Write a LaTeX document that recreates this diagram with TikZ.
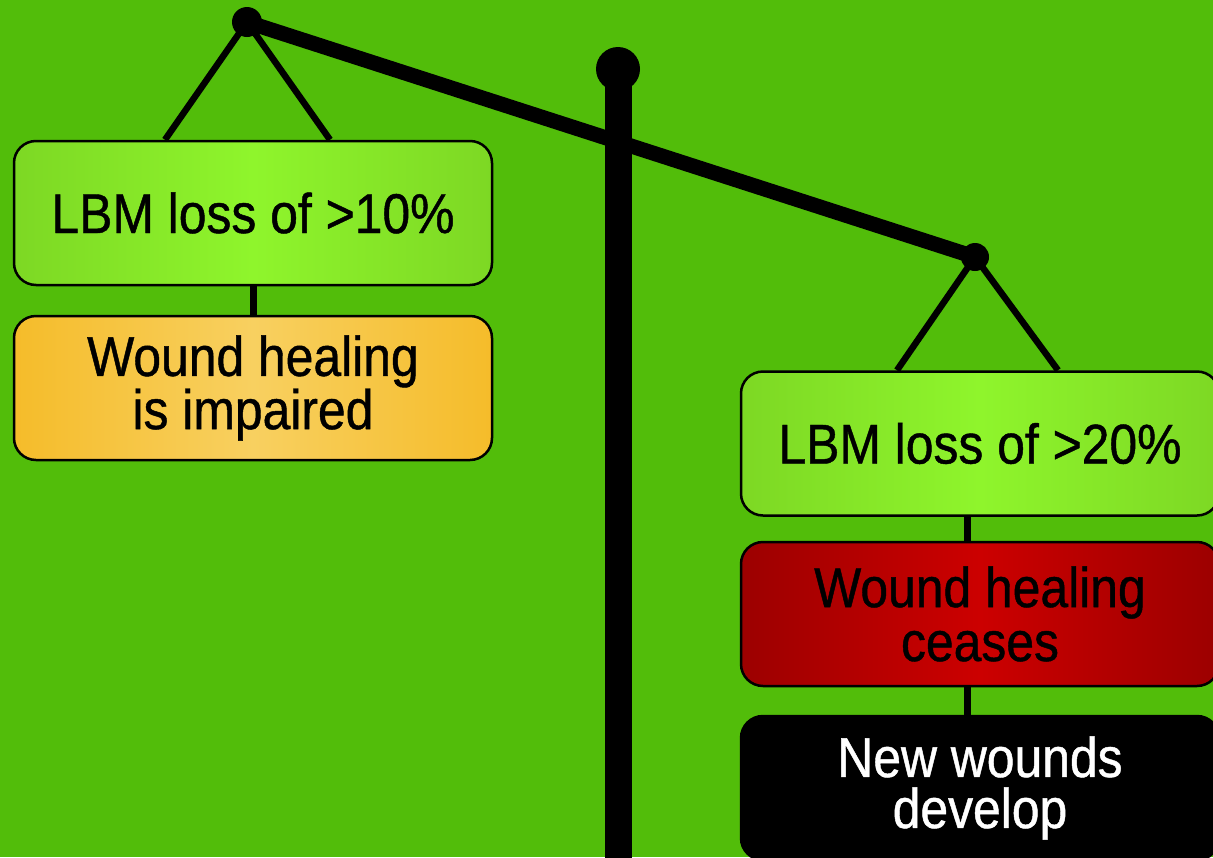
\documentclass[tikz,border=0pt]{standalone}
\usepackage{fontspec}
\setmainfont{Liberation Sans}[FakeStretch=0.89,FakeBold=0.8]
\usetikzlibrary{calc}
\pgfdeclarelayer{back}
\pgfdeclarelayer{mid}
\pgfsetlayers{back,mid,main}
\definecolor{bg}{HTML}{52BD0A}
\definecolor{gedge}{HTML}{7DD824}
\definecolor{gmid}{HTML}{8FF52C}
\definecolor{oedge}{HTML}{F5BC2A}
\definecolor{omid}{HTML}{F8D060}
\definecolor{redge}{HTML}{9C0000}
\definecolor{rmid}{HTML}{CC0000}
\tikzset{
  card/.style={draw=black, line width=2.5pt, rounded corners=22pt,
    minimum width=478pt, minimum height=144pt, inner sep=0pt, align=center},
  greencard/.style={card, left color=gedge, right color=gedge, middle color=gmid,
    font=\fontsize{56}{48}\selectfont},
  orangecard/.style={card, left color=oedge, right color=oedge, middle color=omid,
    font=\fontsize{56}{48}\selectfont},
  redcard/.style={card, left color=redge, right color=redge, middle color=rmid,
    font=\fontsize{56}{54}\selectfont},
  blackcard/.style={card, fill=black, text=white,
    font=\fontsize{56}{51}\selectfont},
  stringline/.style={draw=black, line width=6.5pt},
  connline/.style={draw=black, line width=7pt},
  beamline/.style={draw=black, line width=15pt},
}
\begin{document}
\begin{tikzpicture}[x=1pt,y=-1pt]
\useasboundingbox (0,0) rectangle (1213,857);
\clip (0,0) rectangle (1213,857);
\begin{pgfonlayer}{back}
\fill[bg] (0,0) rectangle (1213,857);
\end{pgfonlayer}

% pivots
\coordinate (lp) at (247,22);
\coordinate (rp) at (975,257);
\coordinate (pt) at (618,69);
\coordinate (pb) at (618,870);

% boxes
\node[greencard] (L1) at (253,213) {LBM loss of >10\%};
\node[orangecard] (L2) at (253,388) {Wound healing\\is impaired};
\node[greencard] (R1) at (980,443.5) {LBM loss of >20\%};
\node[redcard] (R2) at (980,614) {Wound healing\\ceases};
\node[blackcard] (R3) at (980,788) {New wounds\\develop};

\begin{pgfonlayer}{mid}
% strings and beam
\draw[stringline] (lp) -- ([xshift=-88pt]L1.north);
\draw[stringline] (lp) -- ([xshift=77pt]L1.north);
\draw[stringline] (rp) -- ([xshift=-83pt]R1.north);
\draw[stringline] (rp) -- ([xshift=78pt]R1.north);
\draw[beamline] (lp) -- (rp);
% pole
\draw[black, line width=27pt] (pt) -- (pb);
\fill[black] (pt) circle (22pt);
\fill[black] (lp) circle (15pt);
\fill[black] (rp) circle (14pt);
% connectors
\draw[connline] (L1.south) -- (L2.north);
\draw[connline] ([xshift=-13pt]R1.south) -- ([xshift=-13pt]R2.north);
\draw[connline] ([xshift=-13pt]R2.south) -- ([xshift=-13pt]R3.north);
\end{pgfonlayer}
\end{tikzpicture}
\end{document}
